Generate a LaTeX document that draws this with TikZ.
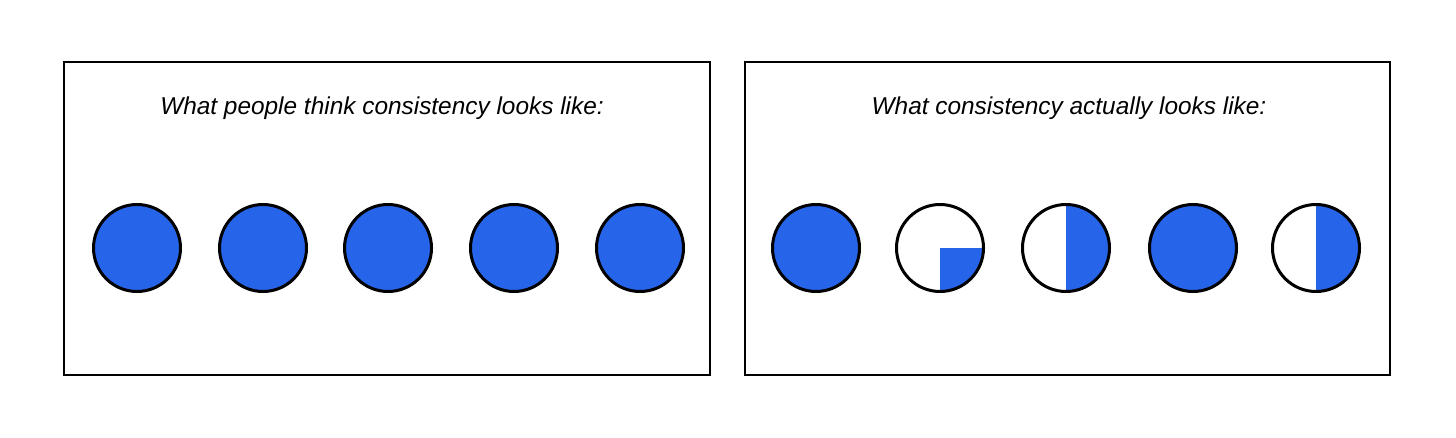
\documentclass[tikz,border=0pt]{standalone}
\usepackage{fontspec}
\setmainfont{Liberation Sans}
\usepackage{tikz}
\usetikzlibrary{positioning,backgrounds}
\definecolor{dotblue}{RGB}{38,101,233}
\tikzset{
  % --- frames ----------------------------------------------------------------
  panel/.style={draw=black,line width=2.6pt},
  caption/.style={font=\fontsize{24.4}{28}\selectfont\itshape,inner sep=0pt},
  % --- dots ------------------------------------------------------------------
  ringdot/.style={circle,draw=black,line width=3pt,minimum size=87pt,
                  inner sep=0pt},
  fulldot/.style={ringdot,fill=dotblue},
  partfill/.style={fill=dotblue},
}

\begin{document}
\begin{tikzpicture}[x=1pt, y=1pt]
  \useasboundingbox (0,0) rectangle (1456,437);

  \node[panel,minimum width=646pt,minimum height=313pt,inner sep=0pt] (lbox) at (387,218.5) {};
  \node[panel,minimum width=645pt,minimum height=313pt,inner sep=0pt] (rbox) at (1067.5,218.5) {};
  \node[caption] (lcap) at (382,329) {What people think consistency looks like:};
  \node[caption] (rcap) at (1069,329) {What consistency actually looks like:};

  % left: all full
  \foreach \i/\x in {1/137,2/263,3/388,4/514,5/640}
    \node[fulldot] (l\i) at (\x,189) {};

  % right: full, quarter, half, full, half
  \node[fulldot] (r1) at (816,189)  {};
  \node[ringdot] (r2) at (940,189)  {};
  \node[ringdot] (r3) at (1066,189) {};
  \node[fulldot] (r4) at (1193,189) {};
  \node[ringdot] (r5) at (1316,189) {};
  \begin{scope}[on background layer]
    \fill[partfill] (r2.center) -- ++(44,0) arc[start angle=0,end angle=-90,radius=44] -- cycle;
    \fill[partfill] (r3.center) -- ++(0,44) arc[start angle=90,end angle=-90,radius=44] -- cycle;
    \fill[partfill] (r5.center) -- ++(0,44) arc[start angle=90,end angle=-90,radius=44] -- cycle;
  \end{scope}
\end{tikzpicture}
\end{document}
